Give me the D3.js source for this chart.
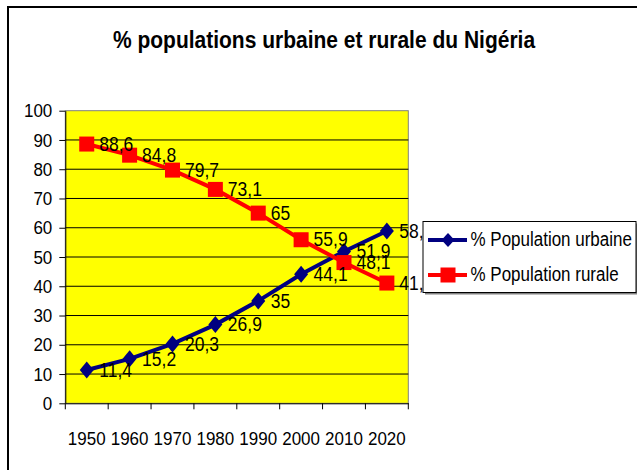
<!DOCTYPE html>
<html>
<head>
<meta charset="utf-8">
<script src="https://cdn.jsdelivr.net/npm/d3@7"></script>
<style>
  body { margin: 0; background: #fff; }
  text { font-family: Arial, "Liberation Sans", sans-serif; fill: #000; }
</style>
</head>
<body>
<div id="chart"></div>
<script>
// Data
const years = ['1950', '1960', '1970', '1980', '1990', '2000', '2010', '2020'];
const urbain = [11.4, 15.2, 20.3, 26.9, 35, 44.1, 51.9, 58.9];
const rural = [88.6, 84.8, 79.7, 73.1, 65, 55.9, 48.1, 41.1];
const yTicks = [0, 10, 20, 30, 40, 50, 60, 70, 80, 90, 100];
const seriesNames = ['% Population urbaine', '% Population rurale'];

const W = 637, H = 470;
const plot = {left: 65.3, right: 408.3, top: 110.7, bottom: 403.3};
const stretch = 1.12; // text in the picture is a bit taller than normal Arial

const fmt = v => String(v).replace('.', ',');

const svg = d3.select('#chart')
  .append('svg')
  .attr('width', W)
  .attr('height', H);

// outer frame (runs off the right and bottom edges)
svg.append('rect')
  .attr('x', 8).attr('y', 7)
  .attr('width', 700).attr('height', 520)
  .attr('fill', '#fff')
  .attr('stroke', '#000')
  .attr('stroke-width', 2);

// title
svg.append('g')
  .attr('transform', `translate(324,48) scale(1,1.18)`)
  .append('text')
  .attr('text-anchor', 'middle')
  .attr('font-size', 21)
  .attr('font-weight', 'bold')
  .text('% populations urbaine et rurale du Nigéria');

// scales
const x = d3.scaleBand().domain(years).range([plot.left, plot.right]);
const y = d3.scaleLinear().domain([0, 100]).range([plot.bottom, plot.top]);
const cx = d => x(d) + x.bandwidth() / 2;

// plot area
svg.append('rect')
  .attr('x', plot.left).attr('y', plot.top)
  .attr('width', plot.right - plot.left)
  .attr('height', plot.bottom - plot.top)
  .attr('fill', '#ffff00')
  .attr('stroke', '#808080')
  .attr('stroke-width', 1);

// gridlines
svg.append('g')
  .selectAll('line')
  .data(yTicks.filter(v => v > 0 && v < 100))
  .enter().append('line')
  .attr('x1', plot.left).attr('x2', plot.right)
  .attr('y1', d => y(d)).attr('y2', d => y(d))
  .attr('stroke', '#000')
  .attr('stroke-width', 1);

// y axis
const yAxis = svg.append('g')
  .attr('transform', `translate(${plot.left},0)`)
  .call(d3.axisLeft(y).tickValues(yTicks).tickSizeInner(6).tickSizeOuter(0).tickPadding(7));
yAxis.select('.domain').attr('stroke', '#000');
yAxis.selectAll('.tick line').attr('stroke', '#000');
yAxis.selectAll('text')
  .attr('font-size', 17)
  .attr('font-family', 'Arial, "Liberation Sans", sans-serif')
  .attr('fill', '#000')
  .attr('transform', `scale(1,${stretch})`);

// x axis: labels centred, ticks at category boundaries
const xAxis = svg.append('g')
  .attr('transform', `translate(0,${plot.bottom})`)
  .call(d3.axisBottom(x).tickSizeInner(0).tickSizeOuter(0));
xAxis.select('.domain').attr('stroke', '#000');
xAxis.selectAll('text')
  .attr('y', 0).attr('dy', 0)
  .attr('font-size', 17)
  .attr('font-family', 'Arial, "Liberation Sans", sans-serif')
  .attr('fill', '#000')
  .attr('transform', `translate(0,41.5) scale(1,${stretch})`);
xAxis.selectAll('.bound')
  .data(years.map(d => x(d)).concat([x.range()[1]]))
  .enter().append('line')
  .attr('class', 'bound')
  .attr('x1', d => d).attr('x2', d => d)
  .attr('y1', 0).attr('y2', 6)
  .attr('stroke', '#000');

// series
const line = d3.line().x((d, i) => cx(years[i])).y(d => y(d));
const diamond = (w, h) => `M0,${-h}L${w},0L0,${h}L${-w},0Z`;

function drawSeries(values, color, marker) {
  svg.append('path')
    .datum(values)
    .attr('d', line)
    .attr('fill', 'none')
    .attr('stroke', color)
    .attr('stroke-width', 4);

  const g = svg.append('g');
  values.forEach((v, i) => {
    if (marker === 'diamond') {
      g.append('path')
        .attr('d', diamond(7, 8.5))
        .attr('transform', `translate(${cx(years[i])},${y(v)})`)
        .attr('fill', color);
    } else {
      g.append('rect')
        .attr('x', cx(years[i]) - 7.5).attr('y', y(v) - 7.5)
        .attr('width', 15).attr('height', 15)
        .attr('fill', color);
    }
  });
}

function drawLabels(values) {
  svg.append('g')
    .selectAll('g')
    .data(values)
    .enter().append('g')
    .attr('transform', (d, i) => `translate(${cx(years[i]) + 12.5},${y(d)}) scale(1,${stretch})`)
    .append('text')
    .attr('y', 6)
    .attr('font-size', 17.5)
    .text(d => fmt(d));
}

drawSeries(urbain, '#000080', 'diamond');
drawSeries(rural, '#ff0000', 'square');
drawLabels(urbain);
drawLabels(rural);

// legend
const leg = {x: 423, y: 221.5, w: 213, h: 71};
svg.append('rect')
  .attr('x', leg.x + 2).attr('y', leg.y + 2)
  .attr('width', leg.w).attr('height', leg.h)
  .attr('fill', '#808080');
svg.append('rect')
  .attr('x', leg.x).attr('y', leg.y)
  .attr('width', leg.w).attr('height', leg.h)
  .attr('fill', '#fff')
  .attr('stroke', '#000');

const legRows = [
  {name: seriesNames[0], color: '#000080', marker: 'diamond', y: 240},
  {name: seriesNames[1], color: '#ff0000', marker: 'square', y: 275}
];
legRows.forEach(r => {
  svg.append('line')
    .attr('x1', 428).attr('x2', 467)
    .attr('y1', r.y).attr('y2', r.y)
    .attr('stroke', r.color)
    .attr('stroke-width', 4);
  if (r.marker === 'diamond') {
    svg.append('path')
      .attr('d', diamond(6.5, 7))
      .attr('transform', `translate(448,${r.y})`)
      .attr('fill', r.color);
  } else {
    svg.append('rect')
      .attr('x', 440.5).attr('y', r.y - 7.5)
      .attr('width', 15).attr('height', 15)
      .attr('fill', r.color);
  }
  svg.append('g')
    .attr('transform', `translate(470.5,${r.y + 6}) scale(1,1.15)`)
    .append('text')
    .attr('font-size', 17)
    .text(r.name);
});
</script>
</body>
</html>
